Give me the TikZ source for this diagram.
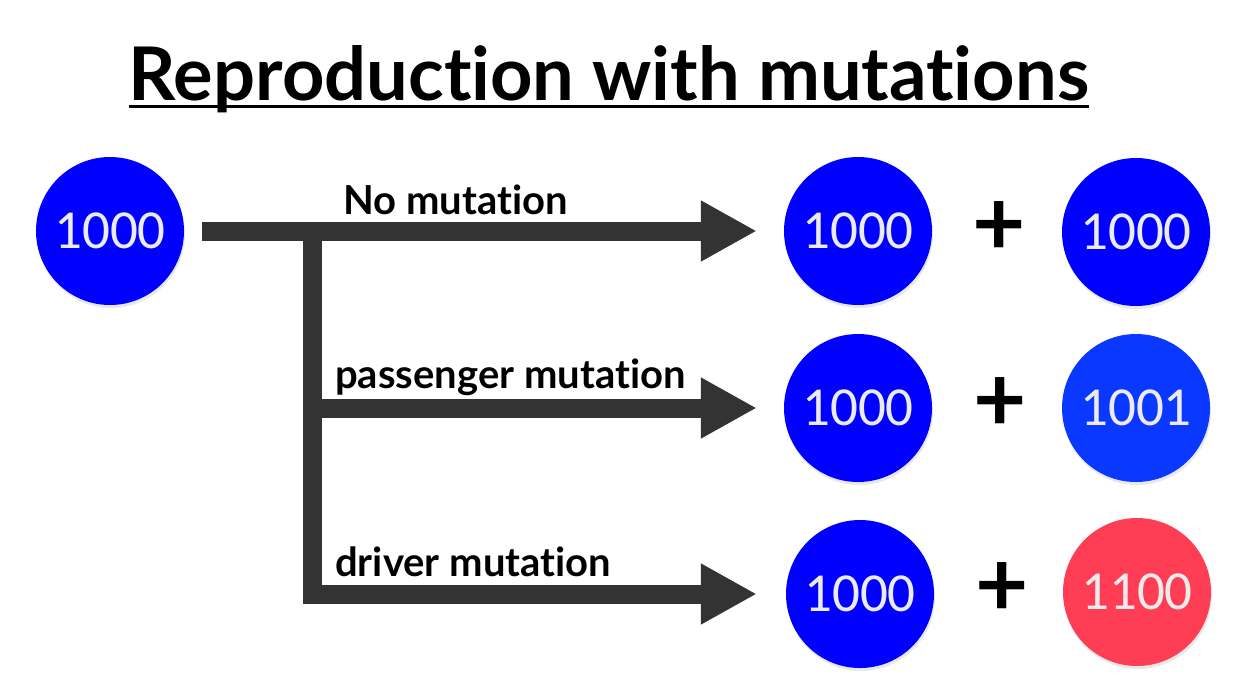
\documentclass[tikz,border=0pt]{standalone}
\usepackage{fontspec}
\setmainfont{Lato}[Ligatures=CommonOff]
\newfontfamily\cellfont{Carlito}
\usetikzlibrary{arrows.meta,calc,shadows}
\definecolor{Blue}{HTML}{0000FF}
\definecolor{LightBlue}{HTML}{0A38FF}
\definecolor{Coral}{HTML}{FF3D55}
\definecolor{Bar}{HTML}{333333}
\begin{document}
\begin{tikzpicture}[x=1pt,y=-1pt,
    cell/.style={circle,minimum size=148pt,inner sep=0pt,text=white!92!black,
      font=\cellfont\fontsize{55}{60}\selectfont,
      drop shadow={shadow xshift=1pt,shadow yshift=-3pt,opacity=.18}},
    branch/.style={draw=Bar,line width=19pt,-{Triangle[length=56pt,width=57pt]}},
    tag/.style={anchor=base west,inner sep=0pt,font=\bfseries\fontsize{40}{44}\selectfont},
    plus/.style={inner sep=0pt,font=\bfseries\fontsize{92}{92}\selectfont}]
  \useasboundingbox[fill=white] (0,0) rectangle (1260,697);
  % title
  \node[inner sep=0pt,anchor=base,font=\bfseries\fontsize{74}{78}\selectfont] (title) at (609,100) {Reproduction with mutations};
  \draw[line width=3pt] ($(title.base west)+(0,6)$) -- ($(title.base east)+(0,6)$);
  % parent
  \node[cell,fill=Blue] (src) at (110,231) {1000};
  % offspring
  \node[cell,fill=Blue] (a1) at (858,231) {1000};
  \node[cell,fill=Blue] (a2) at (1136,232) {1000};
  \node[cell,fill=Blue] (b1) at (858,408) {1000};
  \node[cell,fill=LightBlue] (b2) at (1136,408) {1001};
  \node[cell,fill=Blue] (c1) at (860,594) {1000};
  \node[cell,fill=Coral] (c2) at (1137,592) {1100};
  \node[plus] (p1) at (999,229) {+};
  \node[plus] (p2) at (1000,405) {+};
  \node[plus] (p3) at (1002,590) {+};
  % branches
  \coordinate (split) at (312,231);
  \draw[branch,shorten <=18pt,shorten >=27pt] (src.east) -- (a1.west);
  \draw[branch,shorten >=27pt] (split |- b1.west) -- (b1.west);
  \draw[branch,shorten >=29pt] (split) |- (c1.west);
  \node[tag] (nomut) at (343,214) {No mutation};
  \node[tag] (passmut) at (335,388) {passenger mutation};
  \node[tag] (drvmut) at (335,576) {driver mutation};
\end{tikzpicture}
\end{document}
